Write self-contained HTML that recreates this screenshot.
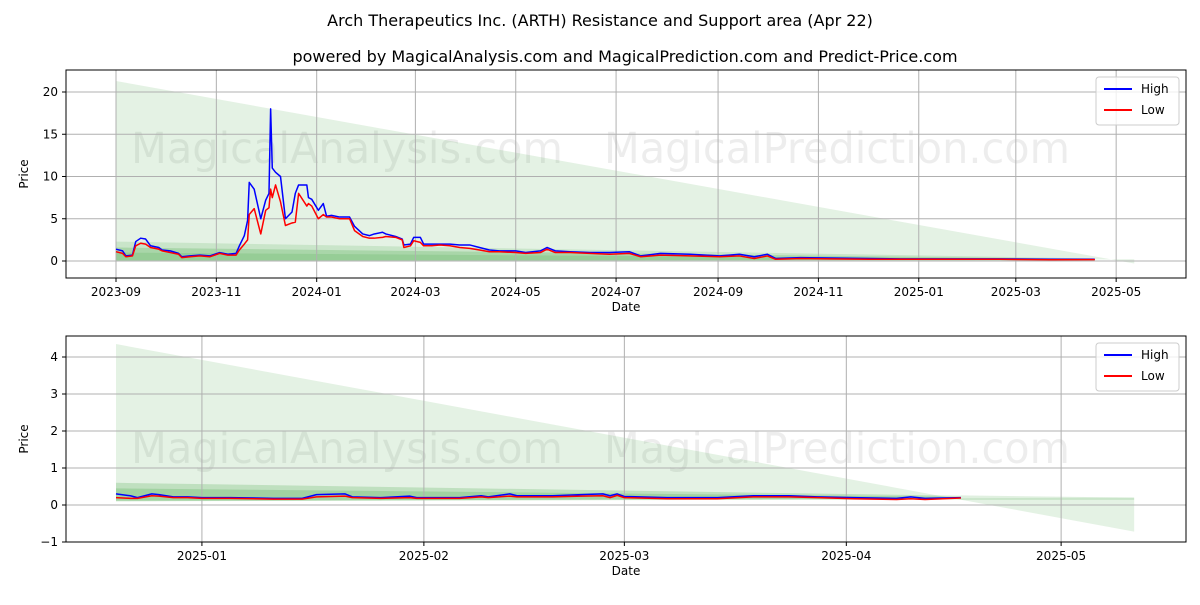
<!DOCTYPE html>
<html><head><meta charset="utf-8"><style>
body{margin:0;background:#fff;font-family:"Liberation Sans","DejaVu Sans",sans-serif}
svg text{font-family:"DejaVu Sans","Liberation Sans",sans-serif}
</style></head><body>
<svg id="c" width="1200" height="600" xmlns="http://www.w3.org/2000/svg">
<text x="600" y="26" font-size="16" text-anchor="middle">Arch Therapeutics Inc. (ARTH) Resistance and Support area (Apr 22)</text>
<text x="625" y="62" font-size="16" text-anchor="middle">powered by MagicalAnalysis.com and MagicalPrediction.com and Predict-Price.com</text>
</svg>
<script>
// Top chart data: day index since 2023-09-01
const topDays=[0,4,6,10,12,15,18,21,26,28,33,38,40,45,51,57,63,68,73,75,78,80,81,84,88,91,93,94,95,97,100,103,107,109,111,116,117,119,123,126,128,131,136,142,145,150,154,157,162,164,170,174,175,179,181,185,187,192,197,203,209,215,221,227,233,243,249,258,262,267,276,288,300,312,319,331,349,367,379,388,396,401,416,434,458,477,507,537,568,595];
const topHigh=[1.4,1.2,0.6,0.7,2.3,2.7,2.6,1.8,1.6,1.3,1.2,0.9,0.5,0.6,0.7,0.6,1.0,0.8,0.9,1.8,3.0,4.8,9.3,8.5,5.0,7.2,8.0,18.0,11,10.5,10,5,5.8,8,9,9,7.5,7.3,6,6.8,5.3,5.4,5.2,5.2,4.1,3.2,3.0,3.2,3.4,3.2,2.9,2.6,1.9,2.0,2.8,2.8,2.0,2.0,2.0,2.0,1.9,1.9,1.6,1.3,1.2,1.2,1.0,1.2,1.6,1.2,1.1,1.0,1.0,1.1,0.6,0.9,0.8,0.6,0.8,0.5,0.8,0.3,0.4,0.35,0.3,0.25,0.25,0.25,0.2,0.2];
const topLow=[1.1,0.9,0.5,0.6,1.8,2.1,2.0,1.6,1.4,1.2,1.0,0.8,0.4,0.5,0.6,0.5,0.9,0.7,0.7,1.3,2.0,2.5,5.5,6.2,3.2,6.0,6.3,8.5,7.5,9,7,4.2,4.5,4.6,8.0,6.5,6.8,6.5,5.0,5.5,5.2,5.2,5.0,5.0,3.6,2.9,2.7,2.7,2.8,2.9,2.8,2.5,1.6,1.8,2.4,2.2,1.8,1.8,1.9,1.8,1.6,1.5,1.3,1.1,1.1,1.0,0.9,1.0,1.4,1.0,1.0,0.9,0.8,0.9,0.5,0.7,0.6,0.5,0.6,0.3,0.6,0.2,0.3,0.25,0.2,0.2,0.2,0.2,0.15,0.17];
const topYTicks=[0,5,10,15,20];
const topXTicks=["2023-09","2023-11","2024-01","2024-03","2024-05","2024-07","2024-09","2024-11","2025-01","2025-03","2025-05"];
const topXTickDays=[0,61,122,182,243,304,366,427,488,547,608];
// Bottom chart data: day index since 2024-12-20
const botDays=[0,2,3,5,6,8,10,12,16,22,26,28,32,33,37,41,42,48,51,52,55,56,61,65,68,69,70,71,77,84,89,94,98,103,109,111,113,118];
const botHigh=[0.3,0.25,0.2,0.3,0.28,0.22,0.22,0.2,0.2,0.18,0.18,0.28,0.3,0.22,0.2,0.24,0.2,0.2,0.25,0.22,0.3,0.25,0.25,0.28,0.3,0.25,0.3,0.23,0.2,0.2,0.25,0.25,0.22,0.2,0.18,0.22,0.18,0.2];
const botLow=[0.2,0.18,0.18,0.25,0.24,0.2,0.2,0.18,0.18,0.16,0.16,0.22,0.24,0.2,0.18,0.2,0.18,0.18,0.22,0.2,0.24,0.22,0.22,0.24,0.25,0.2,0.26,0.2,0.17,0.17,0.22,0.22,0.2,0.17,0.15,0.17,0.15,0.19];
const botYTicks=[-1,0,1,2,3,4];
const botXTicks=["2025-01","2025-02","2025-03","2025-04","2025-05"];
const botXTickDays=[12,43,71,102,132];

const svg=document.getElementById('c');
const NS='http://www.w3.org/2000/svg';
function mk(t,a,p){const e=document.createElementNS(NS,t);for(const k in a)e.setAttribute(k,a[k]);(p||svg).appendChild(e);return e;}

function panel(o){
  const g=mk('g',{});
  
  
  const X=d=>o.x0+d*o.pxd, Y=v=>o.y0-v*o.pxv;
  const w1=mk('text',{x:131,y:o.wmY,'font-size':43,fill:'#000','fill-opacity':0.07,textLength:432,lengthAdjust:'spacingAndGlyphs'},g);w1.textContent='MagicalAnalysis.com';
  
  
  const w2=mk('text',{x:604,y:o.wmY,'font-size':43,fill:'#000','fill-opacity':0.07,textLength:466,lengthAdjust:'spacingAndGlyphs'},g);w2.textContent='MagicalPrediction.com';
  
  
  o.areas.forEach(a=>{const p=mk('polygon',{points:`${X(a[0])},${Y(a[1])} ${X(a[2])},${Y(a[3])} ${X(a[2])},${Y(a[4])} ${X(a[0])},${Y(a[5])}`,fill:'#2e9a2e','fill-opacity':a[6]},g);
    
    });
  o.yt.forEach(v=>{mk('line',{x1:o.L,x2:o.R,y1:Y(v),y2:Y(v),stroke:'#b0b0b0','stroke-width':1},g);
    mk('line',{x1:o.L-4,x2:o.L,y1:Y(v),y2:Y(v),stroke:'#000'},g);
    const t=mk('text',{x:o.L-8,y:Y(v)+4,'font-size':12,'text-anchor':'end'},g);t.textContent=v<0?'\u2212'+(-v):v;
    
    });
  o.xt.forEach((s,i)=>{const x=X(o.xd[i]);mk('line',{x1:x,x2:x,y1:o.T,y2:o.B,stroke:'#b0b0b0','stroke-width':1},g);
    mk('line',{x1:x,x2:x,y1:o.B,y2:o.B+4,stroke:'#000'},g);
    const t=mk('text',{x:x,y:o.B+18,'font-size':12,'text-anchor':'middle'},g);t.textContent=s;
    
    });
  [[o.hi,'#0000ff','high-line'],[o.lo,'#ff0000','low-line']].forEach(s=>{
    const p=mk('polyline',{points:o.days.map((d,i)=>X(d)+','+Y(s[0][i])).join(' '),fill:'none',stroke:s[1],'stroke-width':1.5,'stroke-linejoin':'round'},g);
    
    });
  mk('rect',{x:o.L,y:o.T,width:o.R-o.L,height:o.B-o.T,fill:'none',stroke:'#000','stroke-width':1},g);
  const xl=mk('text',{x:(o.L+o.R)/2,y:o.B+33,'font-size':12,'text-anchor':'middle'},g);xl.textContent='Date';
  
  
  const yl=mk('text',{x:0,y:0,'font-size':12,'text-anchor':'middle',transform:`translate(${o.L-38},${(o.T+o.B)/2}) rotate(-90)`},g);yl.textContent='Price';
  
  
  const lg=mk('g',{},g);
  
  
  mk('rect',{x:o.R-90,y:o.T+7,width:83,height:48,rx:3,fill:'#fff','fill-opacity':0.8,stroke:'#ccc'},lg);
  [['High','#0000ff'],['Low','#ff0000']].forEach((l,i)=>{const y=o.T+19+i*21;
    mk('line',{x1:o.R-82,x2:o.R-54,y1:y,y2:y,stroke:l[1],'stroke-width':2},lg);
    const t=mk('text',{x:o.R-45,y:y+4,'font-size':12},lg);t.textContent=l[0];
    
    });
}
panel({name:'price-chart-full',L:66,R:1186,T:70,B:278,x0:116,pxd:1.645,y0:261,pxv:8.45,wmY:163,
  yt:topYTicks,xt:topXTicks,xd:topXTickDays,days:topDays,hi:topHigh,lo:topLow,
  areas:[[0,21.3,619,-0.3,0.2,0,0.13],[0,2.3,595,0.3,0.05,0,0.15],[0,1.6,595,0.25,0.1,0,0.2],[0,1.0,595,0.22,0.12,0.1,0.15]]});
panel({name:'price-chart-recent',L:66,R:1186,T:336,B:542,x0:116,pxd:7.16,y0:505,pxv:37,wmY:463,
  yt:botYTicks,xt:botXTicks,xd:botXTickDays,days:botDays,hi:botHigh,lo:botLow,
  areas:[[0,4.35,142.2,-0.72,0.2,0.1,0.13],[0,0.6,118,0.25,0.15,0.1,0.2],[0,0.45,118,0.22,0.16,0.12,0.2],[118,0.26,142.2,0.2,0.14,0.14,0.15]]});
</script>
</body></html>
